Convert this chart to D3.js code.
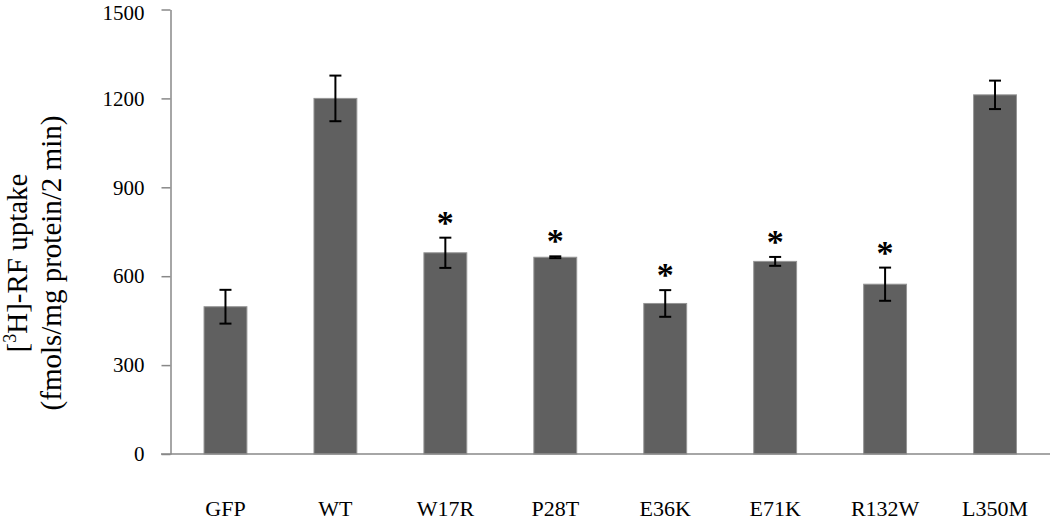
<!DOCTYPE html>
<html>
<head>
<meta charset="utf-8">
<script src="https://cdn.jsdelivr.net/npm/d3@7"></script>
<style>
  html, body { margin: 0; padding: 0; background: #fff; }
  svg { display: block; font-family: "Liberation Serif", "Times New Roman", serif; }
</style>
</head>
<body>
<div id="chart"></div>
<script>
// Data
const categories = ['GFP', 'WT', 'W17R', 'P28T', 'E36K', 'E71K', 'R132W', 'L350M'];
const values = [497, 1200, 679, 664, 508, 650, 573, 1212];
const errors = [57, 77, 51, 3, 45, 15, 56, 48];
const significant = [false, false, true, true, true, true, true, false];
const yTicks = [0, 300, 600, 900, 1200, 1500];

const rows = categories.map((c, i) => ({
  name: c,
  value: values[i],
  err: errors[i],
  sig: significant[i]
}));

function createChart() {
  const width = 1050;
  const height = 521;
  const plot = { left: 170.5, right: 1050, top: 9.5, bottom: 454 };

  const svg = d3.select('#chart')
    .append('svg')
    .attr('width', width)
    .attr('height', height);

  const xScale = d3.scaleBand()
    .domain(categories)
    .range([plot.left, plot.right])
    .paddingInner(0.61)
    .paddingOuter(0.305);

  const yScale = d3.scaleLinear()
    .domain([0, 1500])
    .range([plot.bottom, plot.top]);

  // Bars
  svg.append('g')
    .selectAll('rect')
    .data(rows)
    .join('rect')
    .attr('x', d => xScale(d.name))
    .attr('y', d => yScale(d.value))
    .attr('width', xScale.bandwidth())
    .attr('height', d => yScale(0) - yScale(d.value))
    .attr('fill', '#606060')
    .attr('stroke', '#959595')
    .attr('stroke-width', 1);

  // Error bars
  const eb = svg.append('g').attr('stroke', '#000').attr('stroke-width', 2);
  const cx = d => xScale(d.name) + xScale.bandwidth() / 2;
  eb.selectAll('line.v')
    .data(rows)
    .join('line')
    .attr('class', 'v')
    .attr('x1', cx).attr('x2', cx)
    .attr('y1', d => yScale(d.value + d.err))
    .attr('y2', d => yScale(d.value - d.err));
  eb.selectAll('line.top')
    .data(rows)
    .join('line')
    .attr('class', 'top')
    .attr('x1', d => cx(d) - 6).attr('x2', d => cx(d) + 6)
    .attr('y1', d => yScale(d.value + d.err))
    .attr('y2', d => yScale(d.value + d.err));
  eb.selectAll('line.bot')
    .data(rows)
    .join('line')
    .attr('class', 'bot')
    .attr('x1', d => cx(d) - 6).attr('x2', d => cx(d) + 6)
    .attr('y1', d => yScale(d.value - d.err))
    .attr('y2', d => yScale(d.value - d.err));

  // Significance stars
  svg.append('g')
    .selectAll('text')
    .data(rows.filter(d => d.sig))
    .join('text')
    .attr('x', cx)
    .attr('y', d => yScale(d.value + d.err) - 4)
    .attr('text-anchor', 'middle')
    .attr('font-size', 34)
    .attr('font-weight', 'bold')
    .attr('fill', '#000')
    .text('*');

  // Y axis
  const yAxis = svg.append('g')
    .attr('transform', `translate(${plot.left},0)`)
    .call(d3.axisLeft(yScale)
      .tickValues(yTicks)
      .tickFormat(d3.format('d'))
      .tickSize(9)
      .tickPadding(17)
      .tickSizeOuter(0));
  yAxis.select('.domain').attr('stroke', '#888').attr('stroke-width', 1.5);
  yAxis.selectAll('.tick line').attr('stroke', '#888').attr('stroke-width', 1.5);
  yAxis.selectAll('.tick text')
    .attr('font-size', 21)
    .attr('font-family', '"Liberation Serif", serif')
    .attr('fill', '#000')
    // keep the top label inside the page edge
    .attr('y', d => (d === 1500 ? 3 : 0));

  // X axis
  const xAxis = svg.append('g')
    .attr('transform', `translate(0,${plot.bottom})`)
    .call(d3.axisBottom(xScale).tickSize(0));
  xAxis.select('.domain').remove();
  xAxis.selectAll('.tick text')
    .attr('y', 62)
    .attr('dy', null)
    .attr('font-size', 22)
    .attr('font-family', '"Liberation Serif", serif')
    .attr('fill', '#000');
  svg.append('line')
    .attr('x1', plot.left - 9.5).attr('x2', plot.right)
    .attr('y1', plot.bottom).attr('y2', plot.bottom)
    .attr('stroke', '#888').attr('stroke-width', 1.5);

  // Y axis title
  const title = svg.append('text')
    .attr('transform', 'translate(0,263) rotate(-90)')
    .attr('text-anchor', 'middle')
    .attr('font-size', 29)
    .attr('fill', '#000');
  const l1 = title.append('tspan').attr('x', 0).attr('y', 27);
  l1.append('tspan').text('[');
  l1.append('tspan').attr('font-size', 18).attr('dy', -11).text('3');
  l1.append('tspan').attr('dy', 11).text('H]-RF uptake');
  title.append('tspan').attr('x', 0).attr('y', 61).text('(fmols/mg protein/2 min)');
}

createChart();
</script>
</body>
</html>
